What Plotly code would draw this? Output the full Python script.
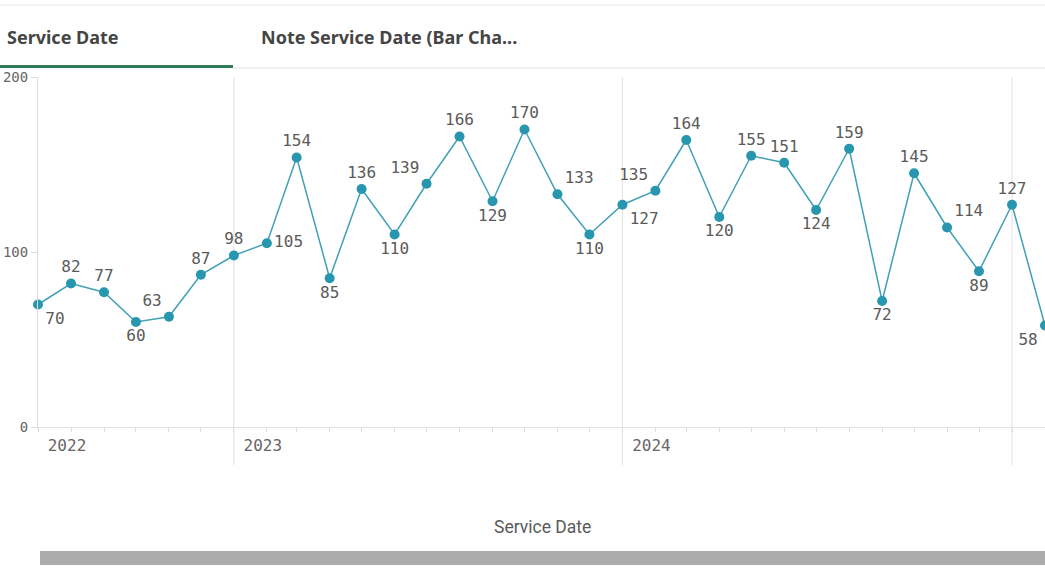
import plotly.graph_objects as go

# ---- data ----
months = ["2022-07-01", "2022-08-01", "2022-09-01", "2022-10-01", "2022-11-01", "2022-12-01",
          "2023-01-01", "2023-02-01", "2023-03-01", "2023-04-01", "2023-05-01", "2023-06-01",
          "2023-07-01", "2023-08-01", "2023-09-01", "2023-10-01", "2023-11-01", "2023-12-01",
          "2024-01-01", "2024-02-01", "2024-03-01", "2024-04-01", "2024-05-01", "2024-06-01",
          "2024-07-01", "2024-08-01", "2024-09-01", "2024-10-01", "2024-11-01", "2024-12-01",
          "2025-01-01", "2025-02-01"]
counts = [70, 82, 77, 60, 63, 87,
          98, 105, 154, 85, 136, 110, 139, 166, 129, 170, 133, 110,
          127, 135, 164, 120, 155, 151, 124, 159, 72, 145, 114, 89,
          127, 58]
label_pos = ["bottom right", "top center", "top center", "bottom center", "top left", "top center",
             "top center", "middle right", "top center", "bottom center", "top center", "bottom center",
             "top left", "top center", "bottom center", "top center", "top right", "bottom center",
             "bottom right", "top left", "top center", "bottom center", "top center", "top center",
             "bottom center", "top center", "bottom center", "top center", "top right", "bottom center",
             "top center", "bottom left"]
year_tick_vals = ["2022-07-01", "2023-01-01", "2024-01-01"]
year_tick_text = ["2022", "2023", "2024"]
year_lines = ["2023-01-01", "2024-01-01", "2025-01-01"]
y_ticks = [0, 100, 200]
tabs = ["Service Date", "Note Service Date (Bar Cha..."]
axis_title = "Service Date"

# ---- layout geometry (pixels) ----
W, H = 1045, 568
ML, MR, MT, MB = 38, 0, 77, 141
PW, PH = W - ML - MR, H - MT - MB


def px(x):
    return (x - ML) / PW


def py(y):
    return (H - MB - y) / PH


MONO = "DejaVu Sans Mono"
LINE_C = "#40a0b5"
MARK_C = "#2896ae"

fig = go.Figure()
fig.add_trace(go.Scatter(
    x=months, y=counts, mode="lines+markers+text",
    text=[str(v) for v in counts], textposition=label_pos,
    textfont=dict(family=MONO, size=16, color="#5a5a5a"),
    line=dict(color=LINE_C, width=1.5),
    marker=dict(color=MARK_C, size=10),
    cliponaxis=False, hoverinfo="x+y", showlegend=False,
))

shapes = []
for d in year_lines:
    shapes.append(dict(type="line", xref="x", yref="paper", x0=d, x1=d,
                       y0=py(465), y1=1, line=dict(color="#e2e2e2", width=1), layer="below"))
# top border
shapes.append(dict(type="line", xref="paper", yref="paper", x0=px(0), x1=px(W),
                   y0=py(5), y1=py(5), line=dict(color="#e6e6e6", width=1)))
# tab separator line
shapes.append(dict(type="line", xref="paper", yref="paper", x0=px(233), x1=px(W),
                   y0=py(68), y1=py(68), line=dict(color="#e3e3e3", width=1)))
# active tab underline
shapes.append(dict(type="line", xref="paper", yref="paper", x0=px(0), x1=px(233),
                   y0=py(66.5), y1=py(66.5), line=dict(color="#2f7d58", width=3)))
# scrollbar
shapes.append(dict(type="rect", xref="paper", yref="paper", x0=px(40), x1=px(W),
                   y0=py(565), y1=py(551), fillcolor="#ababab", line=dict(width=0)))

annotations = [
    dict(text=f"<b>{tabs[0]}</b>", xref="paper", yref="paper", x=px(5), y=py(37),
         xanchor="left", yanchor="middle", showarrow=False,
         font=dict(family="Noto Sans", size=18, color="#454545")),
    dict(text=f"<b>{tabs[1]}</b>", xref="paper", yref="paper", x=px(259), y=py(37),
         xanchor="left", yanchor="middle", showarrow=False,
         font=dict(family="Noto Sans", size=18, color="#454545")),
    dict(text=axis_title, xref="paper", yref="paper", x=px(542), y=py(527),
         xanchor="center", yanchor="middle", showarrow=False,
         font=dict(family="Roboto", size=17.5, color="#5a5a5a")),
]

fig.update_layout(
    width=W, height=H,
    margin=dict(l=ML, r=MR, t=MT, b=MB, pad=0),
    paper_bgcolor="white", plot_bgcolor="white",
    shapes=shapes, annotations=annotations,
    xaxis=dict(
        type="date", range=["2022-07-01", "2025-02-01"],
        showgrid=False, zeroline=False,
        showline=True, linecolor="#e3e3e3", linewidth=1,
        tickmode="array", tickvals=year_tick_vals, ticktext=year_tick_text,
        ticks="outside", ticklen=4, tickcolor="#dcdcdc",
        ticklabelshift=29, ticklabelstandoff=0,
        tickfont=dict(family=MONO, size=16, color="#666666"),
        minor=dict(dtick="M1", ticks="outside", ticklen=4, tickcolor="#dcdcdc", showgrid=False),
        fixedrange=True,
    ),
    yaxis=dict(
        range=[0, 200], tickmode="array", tickvals=y_ticks,
        showgrid=False, zeroline=False,
        showline=True, linecolor="#dcdcdc", linewidth=1,
        ticks="outside", ticklen=6, tickcolor="#dcdcdc",
        tickfont=dict(family=MONO, size=14, color="#666666"),
        automargin=False, fixedrange=True,
    ),
)

fig.write_html("out.html", config={"displayModeBar": False},
               post_script="document.body.style.margin='0';")
